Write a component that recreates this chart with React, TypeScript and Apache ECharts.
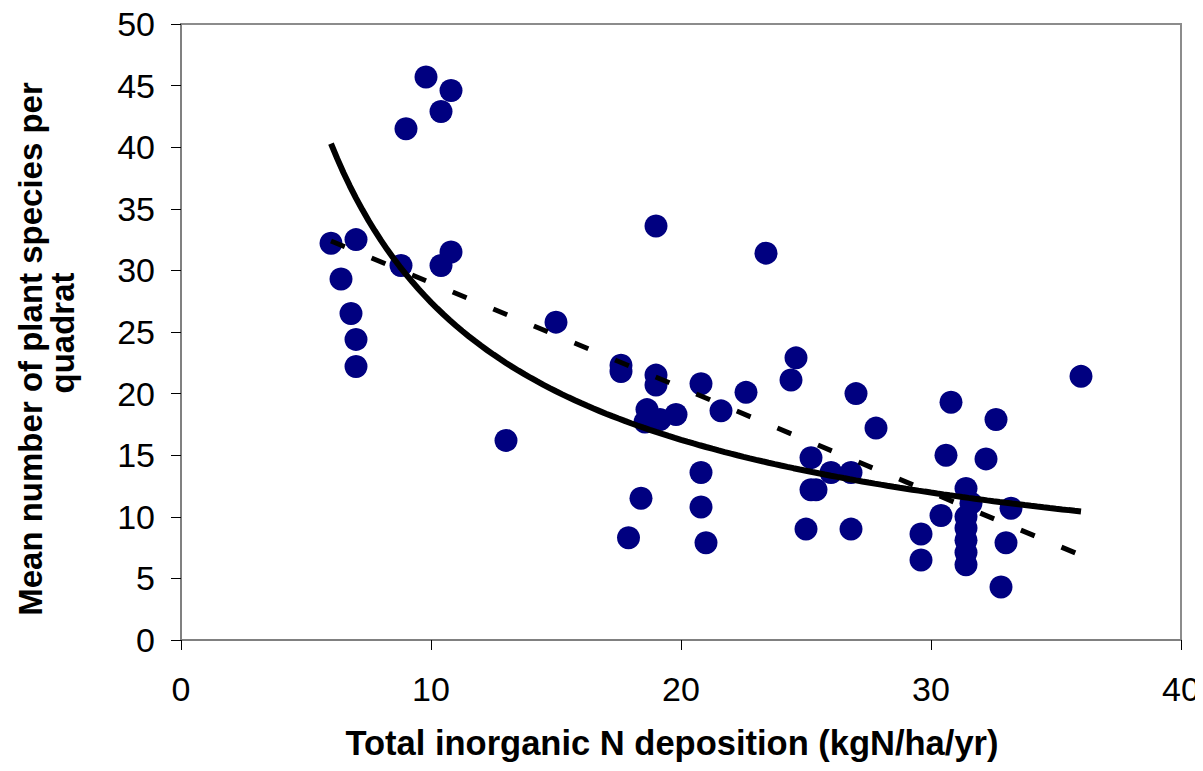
import React, { useEffect, useRef } from "react";
import * as echarts from "echarts";

const depositionX: number[] = [
  6.0, 6.4, 6.8, 7.0, 7.0, 7.0, 8.8, 9.0, 9.8, 10.4, 10.8, 10.4, 10.8, 13.0, 15.0,
  17.6, 17.6, 17.9, 18.4, 19.0, 18.64, 18.56, 19.16, 19.0, 19.0, 19.8, 20.8, 20.8,
  20.8, 21.0, 21.6, 22.6, 23.4, 24.4, 24.6, 25.0, 25.2, 25.2, 25.4, 26.0, 26.8,
  26.8, 27.0, 27.8, 29.6, 29.6, 30.4, 30.6, 30.8, 31.4, 31.6, 31.4, 31.4, 31.4,
  31.4, 31.4, 32.2, 32.6, 33.2, 33.0, 32.8, 36.0,
];
const speciesY: number[] = [
  32.2, 29.3, 26.5, 32.5, 24.4, 22.2, 30.4, 41.5, 45.7, 42.9, 44.6, 30.4, 31.5, 16.2, 25.8,
  22.3, 21.8, 8.3, 11.5, 33.6, 18.7, 17.7, 17.9, 21.5, 20.7, 18.3, 20.8, 13.6,
  10.8, 7.9, 18.6, 20.1, 31.4, 21.1, 22.9, 9.0, 14.8, 12.2, 12.2, 13.6, 13.6,
  9.0, 20.0, 17.2, 8.6, 6.5, 10.1, 15.0, 19.3, 12.3, 11.1, 10.0, 9.1, 8.1,
  7.1, 6.1, 14.7, 17.9, 10.7, 7.9, 4.3, 21.4,
];
const xTicks: number[] = [0, 10, 20, 30, 40];
const yTicks: number[] = [0, 5, 10, 15, 20, 25, 30, 35, 40, 45, 50];
const xTitle = "Total inorganic N deposition (kgN/ha/yr)";
const yTitleLines: string[] = ["Mean number of plant species per", "quadrat"];

function leastSquares(xs: number[], ys: number[]) {
  const n = xs.length;
  let sx = 0, sy = 0, sxx = 0, sxy = 0;
  for (let i = 0; i < n; i++) {
    sx += xs[i]; sy += ys[i]; sxx += xs[i] * xs[i]; sxy += xs[i] * ys[i];
  }
  const b = (n * sxy - sx * sy) / (n * sxx - sx * sx);
  const a = (sy - b * sx) / n;
  return { a, b };
}

const FONT = "'Liberation Sans', Arial, sans-serif";

export default function App() {
  const ref = useRef<HTMLDivElement>(null);
  useEffect(() => {
    if (!ref.current) return;
    const chart = echarts.init(ref.current, undefined, { renderer: "svg" });
    const points = depositionX.map((x, i) => [x, speciesY[i]]);
    const xMin = Math.min(...depositionX);
    const xMax = Math.max(...depositionX);

    // linear trendline (least squares)
    const lin = leastSquares(depositionX, speciesY);
    const linLine = [
      [xMin, lin.a + lin.b * xMin],
      [xMax, lin.a + lin.b * xMax],
    ];
    // power trendline (least squares on log-log)
    const pw = leastSquares(depositionX.map(Math.log), speciesY.map(Math.log));
    const pa = Math.exp(pw.a);
    const powLine: number[][] = [];
    const steps = 120;
    for (let k = 0; k <= steps; k++) {
      const x = xMin + ((xMax - xMin) * k) / steps;
      powLine.push([x, pa * Math.pow(x, pw.b)]);
    }

    const titleStyle = {
      fontFamily: FONT,
      fontWeight: "bold",
      fill: "#000",
      align: "center",
      verticalAlign: "middle",
    };

    chart.setOption({
      animation: false,
      backgroundColor: "#ffffff",
      grid: {
        left: 181,
        right: 22,
        top: 24,
        bottom: 131,
        show: true,
        borderColor: "#8c8c8c",
        borderWidth: 2,
        backgroundColor: "transparent",
      },
      graphic: [
        {
          type: "text",
          x: 672,
          y: 743,
          style: { ...titleStyle, text: xTitle, fontSize: 34.5 },
        },
        {
          type: "text",
          x: 30,
          y: 349,
          rotation: Math.PI / 2,
          style: { ...titleStyle, text: yTitleLines[0], fontSize: 33 },
        },
        {
          type: "text",
          x: 62,
          y: 333,
          rotation: Math.PI / 2,
          style: { ...titleStyle, text: yTitleLines[1], fontSize: 33 },
        },
      ],
      xAxis: {
        type: "value",
        min: xTicks[0],
        max: xTicks[xTicks.length - 1],
        interval: 10,
        axisLine: { show: true, lineStyle: { color: "#808080", width: 2 } },
        axisTick: { show: true, inside: false, length: 10, lineStyle: { color: "#000", width: 1 } },
        axisLabel: {
          fontFamily: FONT,
          fontSize: 34,
          color: "#000",
          margin: 32,
        },
        splitLine: { show: false },
      },
      yAxis: {
        type: "value",
        min: yTicks[0],
        max: yTicks[yTicks.length - 1],
        interval: 5,
        axisLine: { show: true, lineStyle: { color: "#808080", width: 2 } },
        axisTick: { show: true, inside: false, length: 10, lineStyle: { color: "#000", width: 1 } },
        axisLabel: {
          fontFamily: FONT,
          fontSize: 34,
          color: "#000",
          margin: 26,
        },
        splitLine: { show: false },
      },
      series: [
        {
          type: "scatter",
          data: points,
          symbol: "circle",
          symbolSize: 23,
          itemStyle: { color: "#000080", opacity: 1 },
          z: 2,
        },
        {
          type: "line",
          data: linLine,
          showSymbol: false,
          symbol: "none",
          lineStyle: { color: "#000", width: 5, type: [15, 29] },
          z: 3,
        },
        {
          type: "line",
          data: powLine,
          showSymbol: false,
          symbol: "none",
          smooth: false,
          lineStyle: { color: "#000", width: 6 },
          z: 4,
        },
      ],
    });
    return () => chart.dispose();
  }, []);
  return <div ref={ref} style={{ width: 1203, height: 771, margin: -8 }} />;
}
